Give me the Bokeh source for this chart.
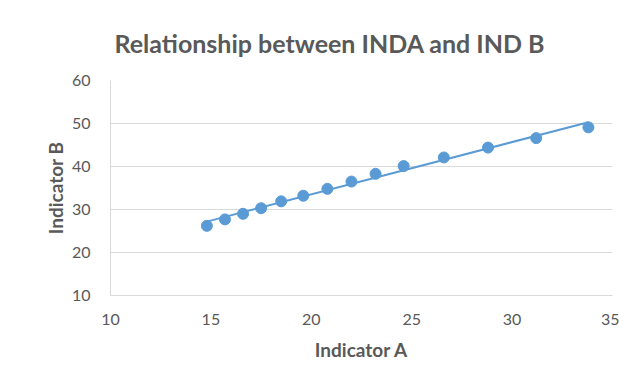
import numpy as np
from bokeh.plotting import figure
from bokeh.models import ColumnDataSource, Range1d, FixedTicker
from bokeh.embed import file_html
from bokeh.resources import INLINE

indicator_a = [14.8, 15.7, 16.6, 17.5, 18.5, 19.6, 20.8, 22.0, 23.2, 24.6, 26.6, 28.8, 31.2, 33.8]
indicator_b = [26.2, 27.7, 29.0, 30.3, 31.9, 33.2, 34.8, 36.5, 38.3, 40.1, 42.1, 44.4, 46.6, 49.1]
x_ticks = [10, 15, 20, 25, 30, 35]
y_ticks = [10, 20, 30, 40, 50, 60]

FONT = "Lato"
GREY = "#595959"
BLUE = "#5b9bd5"

p = figure(width=619, height=377, output_backend="svg", toolbar_location=None,
           x_range=Range1d(10, 35), y_range=Range1d(10, 60),
           min_border_left=110, min_border_right=7, min_border_top=80, min_border_bottom=82,
           title="Relationship between INDA and IND B")
p.outline_line_color = None
p.background_fill_color = "white"
p.border_fill_color = "white"

p.title.text_font = FONT
p.title.text_font_size = "25px"
p.title.text_font_style = "bold"
p.title.text_color = GREY
p.title.align = "left"
p.title.offset = 4
p.title.standoff = 46

for ax in (p.xaxis[0], p.yaxis[0]):
    ax.axis_line_color = "#d9d9d9"
    ax.major_tick_line_color = None
    ax.minor_tick_line_color = None
    ax.major_label_text_font = FONT
    ax.major_label_text_font_size = "16px"
    ax.major_label_text_color = GREY
    ax.axis_label_text_font = FONT
    ax.axis_label_text_font_size = "19px"
    ax.axis_label_text_font_style = "bold"
    ax.axis_label_text_color = GREY

p.xaxis.ticker = FixedTicker(ticks=x_ticks)
p.yaxis.ticker = FixedTicker(ticks=y_ticks)
p.xaxis.axis_label = "Indicator A"
p.yaxis.axis_label = "Indicator B"
p.xaxis.major_label_standoff = 12
p.yaxis.major_label_standoff = 14
p.xaxis.axis_label_standoff = 10
p.yaxis.axis_label_standoff = 2

p.xgrid.grid_line_color = None
p.ygrid.grid_line_color = "#d9d9d9"
p.ygrid.ticker = FixedTicker(ticks=y_ticks)

# trendline (least squares fit of the data)
slope, intercept = np.polyfit(indicator_a, indicator_b, 1)
tx = [min(indicator_a), max(indicator_a)]
ty = [slope * v + intercept for v in tx]
p.line(tx, ty, line_color=BLUE, line_width=2)

src = ColumnDataSource(dict(x=indicator_a, y=indicator_b))
p.scatter("x", "y", source=src, size=11, fill_color=BLUE, line_color=BLUE)

open("out.html", "w").write(file_html(p, INLINE))
